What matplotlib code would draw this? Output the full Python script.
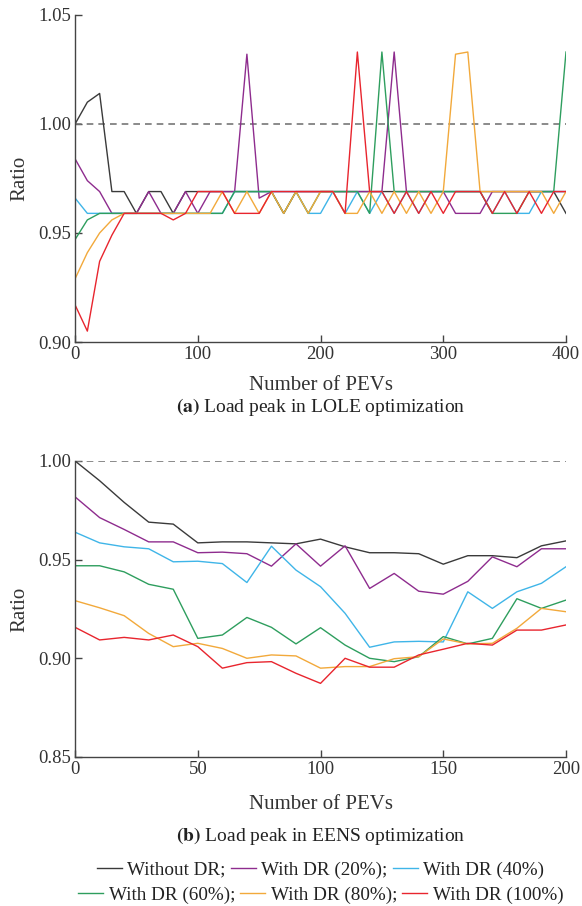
import numpy as np
import matplotlib
matplotlib.use("Agg")
import matplotlib.pyplot as plt

plt.rcParams['font.family'] = ['Liberation Serif', 'DejaVu Serif']
plt.rcParams['mathtext.fontset'] = 'stix'

# (a) LOLE optimization, PEVs 0..400 step 10
pevs_lole = list(range(0, 410, 10))
H = 0.969
L = 0.959
S = 1.033
lole_without = [1.000, 1.010, 1.014, H, H, L, H, H, L, H,
                H, H, H, H, H, H, H, L, H, H,
                H, H, H, H, H, H, H, H, H, H,
                H, H, H, H, H, H, H, H, H, H, L]
lole_dr20 = [0.984, 0.974, 0.969, L, L, L, H, L, L, H,
             L, H, H, H, 1.032, 0.966, H, H, H, H,
             H, H, H, H, H, H, S, H, H, H,
             H, L, L, L, H, H, H, H, H, H, H]
lole_dr40 = [0.966, L, L, L, L, L, L, L, L, L,
             L, L, L, H, H, H, H, H, H, L,
             L, H, L, H, L, H, L, H, L, H,
             H, H, H, H, L, H, L, L, H, H, H]
lole_dr60 = [0.947, 0.956, L, L, L, L, L, L, L, L,
             L, L, L, H, H, H, H, L, H, L,
             H, H, H, H, L, S, H, H, H, H,
             H, H, H, H, L, L, L, H, H, H, S]
lole_dr80 = [0.929, 0.941, 0.950, 0.956, L, L, L, L, L, L,
             L, L, H, L, H, L, H, L, H, L,
             H, H, L, L, H, L, H, L, H, L,
             H, 1.032, S, H, H, H, H, H, H, L, H]
lole_dr100 = [0.917, 0.905, 0.937, 0.949, L, L, L, L, 0.956, L,
              H, H, H, L, L, L, H, H, H, H,
              H, H, L, S, H, H, L, H, L, H,
              L, H, H, H, L, H, L, H, L, H, H]

# (b) EENS optimization, PEVs 0..200 step 10
pevs_eens = list(range(0, 210, 10))
eens_without = [1.000, 0.990, 0.979, 0.969, 0.968, 0.9585, 0.959, 0.959, 0.9585, 0.958,
                0.9604, 0.9565, 0.9535, 0.9535, 0.953, 0.9477, 0.952, 0.952, 0.951, 0.957, 0.9595]
eens_dr20 = [0.9818, 0.9713, 0.9653, 0.959, 0.959, 0.9535, 0.9538, 0.953, 0.9467, 0.958,
             0.9467, 0.957, 0.9354, 0.943, 0.934, 0.9325, 0.939, 0.9514, 0.9464, 0.9555, 0.9555]
eens_dr40 = [0.9639, 0.9585, 0.9565, 0.9555, 0.9489, 0.9492, 0.948, 0.9384, 0.9568, 0.9447,
             0.9363, 0.9228, 0.9056, 0.9083, 0.9086, 0.9083, 0.9337, 0.9253, 0.9337, 0.938, 0.9464]
eens_dr60 = [0.9469, 0.9469, 0.9438, 0.9375, 0.935, 0.9101, 0.9118, 0.9207, 0.9157, 0.9073,
             0.9155, 0.9067, 0.900, 0.8983, 0.9008, 0.911, 0.9073, 0.9101, 0.9302, 0.9253, 0.9295]
eens_dr80 = [0.9292, 0.9256, 0.9216, 0.9126, 0.9059, 0.9076, 0.905, 0.900, 0.9017, 0.9012,
             0.895, 0.8958, 0.8958, 0.8998, 0.9008, 0.9098, 0.9073, 0.9076, 0.9152, 0.9253, 0.9236]
eens_dr100 = [0.9157, 0.9093, 0.9106, 0.9093, 0.9118, 0.9059, 0.895, 0.8978, 0.8983, 0.8924,
              0.8873, 0.900, 0.8955, 0.8955, 0.9017, 0.9046, 0.9076, 0.9067, 0.9143, 0.9143, 0.9169]

labels = ['Without DR;', 'With DR (20%);', 'With DR (40%)',
          'With DR (60%);', 'With DR (80%);', 'With DR (100%)']
colors = ['#3a3a3a', '#8e2c8e', '#3fb5e8', '#2e9e5e', '#f2a93b', '#e8252e']

AX_LEFT, AX_WIDTH = 0.129, 0.8435
XC = AX_LEFT + AX_WIDTH / 2  # horizontal centre of the plotting area


def style_axes(ax):
    ax.spines['top'].set_visible(False)
    ax.spines['right'].set_visible(False)
    for s in ['left', 'bottom']:
        ax.spines[s].set_color('#444444')
        ax.spines[s].set_linewidth(1.0)
    ax.tick_params(direction='in', length=5, width=1.0, colors='#444444',
                   labelsize=13.5, labelcolor='#333333', pad=3)


fig = plt.figure(figsize=(5.82, 9.06), dpi=100)

# ---- top plot
ax1 = fig.add_axes([AX_LEFT, 0.6225, AX_WIDTH, 0.361])
series_a = [lole_without, lole_dr20, lole_dr40, lole_dr60, lole_dr80, lole_dr100]
ax1.axhline(1.0, color='#777777', lw=1.2, ls=(0, (4, 3)))
for y, c in zip(series_a, colors):
    ax1.plot(pevs_lole, y, color=c, lw=1.0)
ax1.set_xlim(0, 400)
ax1.set_ylim(0.90, 1.05)
ax1.set_xticks([0, 100, 200, 300, 400])
ax1.set_yticks([0.90, 0.95, 1.00, 1.05])
ax1.set_yticklabels(['0.90', '0.95', '1.00', '1.05'])
style_axes(ax1)
ax1.set_xlabel('Number of PEVs', fontsize=15, color='#333333', labelpad=9)
ax1.set_ylabel('Ratio', fontsize=15, color='#333333', labelpad=6)
fig.text(XC, 1 - 407 / 906, r'$\mathbf{(a)}$ Load peak in LOLE optimization',
         ha='center', va='center', fontsize=14, color='#222222')

# ---- bottom plot
ax2 = fig.add_axes([AX_LEFT, 0.1645, AX_WIDTH, 0.3267])
series_b = [eens_without, eens_dr20, eens_dr40, eens_dr60, eens_dr80, eens_dr100]
ax2.axhline(1.0, color='#777777', lw=1.2, ls=(0, (4, 3)))
lines = []
for y, c in zip(series_b, colors):
    ln, = ax2.plot(pevs_eens, y, color=c, lw=1.0)
    lines.append(ln)
ax2.set_xlim(0, 200)
ax2.set_ylim(0.85, 1.00)
ax2.set_xticks([0, 50, 100, 150, 200])
ax2.set_yticks([0.85, 0.90, 0.95, 1.00])
ax2.set_yticklabels(['0.85', '0.90', '0.95', '1.00'])
style_axes(ax2)
ax2.set_xlabel('Number of PEVs', fontsize=15, color='#333333', labelpad=12)
ax2.set_ylabel('Ratio', fontsize=15, color='#333333', labelpad=6)
fig.text(XC, 1 - 836 / 906, r'$\mathbf{(b)}$ Load peak in EENS optimization',
         ha='center', va='center', fontsize=14, color='#222222')

# legend in two centred rows
for row, ypix in [(0, 870), (1, 895)]:
    idx = range(row * 3, row * 3 + 3)
    fig.legend([lines[i] for i in idx], [labels[i] for i in idx],
               loc='center', bbox_to_anchor=(XC, 1 - ypix / 906), ncol=3,
               frameon=False, fontsize=13.8, handlelength=1.3, handletextpad=0.3,
               columnspacing=0.25, borderpad=0, labelcolor='#222222')

fig.savefig('out.png', dpi=100)
